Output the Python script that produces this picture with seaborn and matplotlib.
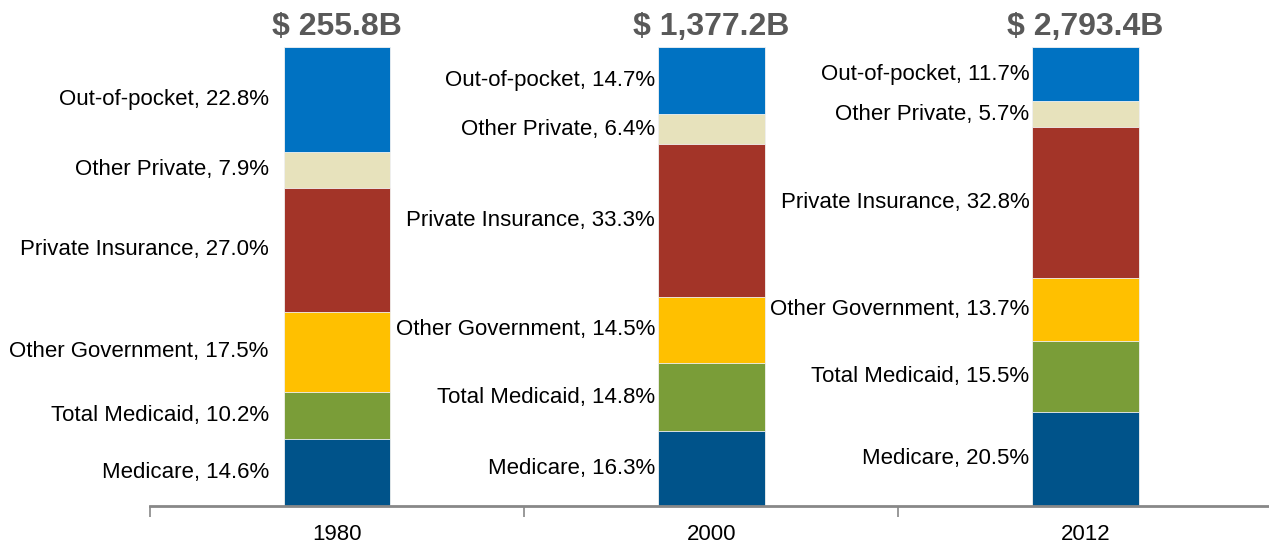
import pandas as pd
import numpy as np
import matplotlib.pyplot as plt
import seaborn as sns

# data (share of total spending, %)
years = ['1980', '2000', '2012']
totals = ['$ 255.8B', '$ 1,377.2B', '$ 2,793.4B']
categories = ['Medicare', 'Total Medicaid', 'Other Government',
              'Private Insurance', 'Other Private', 'Out-of-pocket']
medicare = [14.6, 16.3, 20.5]
medicaid = [10.2, 14.8, 15.5]
other_gov = [17.5, 14.5, 13.7]
private_ins = [27.0, 33.3, 32.8]
other_private = [7.9, 6.4, 5.7]
out_of_pocket = [22.8, 14.7, 11.7]

colors = ['#00538A', '#7A9D38', '#FFC000', '#A33428', '#E7E2BC', '#0072C2']

sns.set_style('white')
plt.rcParams['font.family'] = ['Liberation Sans', 'DejaVu Sans']

shares = pd.DataFrame(
    [medicare, medicaid, other_gov, private_ins, other_private, out_of_pocket],
    index=categories, columns=years)
cum = shares.cumsum()

fig = plt.figure(figsize=(12.69, 5.48), dpi=100)
ax = fig.add_axes([0.1182, 0.0766, 0.8818, 0.9234])

bar_w = 0.285
# stacked bars: draw cumulative totals from the top layer down
for cat, col in reversed(list(zip(categories, colors))):
    d = pd.DataFrame({'year': years, 'value': cum.loc[cat].values})
    sns.barplot(data=d, x='year', y='value', color=col, width=bar_w,
                saturation=1, edgecolor='#F2F2F2', linewidth=0.6, ax=ax)

# segment labels to the left of each bar
label_gap = [0.04, 0.008, 0.008]
for i, yr in enumerate(years):
    lower = 0.0
    for cat in categories:
        v = shares.loc[cat, yr]
        ax.text(i - bar_w / 2 - label_gap[i], lower + v / 2,
                f'{cat}, {v:.1f}%', ha='right', va='center',
                fontsize=16, color='black')
        lower += v
    ax.text(i, 104.3, totals[i], ha='center', va='center', fontsize=23,
            fontweight='bold', color='#595959')

ax.set_xlim(-0.5, 2.49)
ax.set_ylim(0, 110.2)
ax.set_xlabel('')
ax.set_ylabel('')
ax.set_yticks([])
for s in ['top', 'right', 'left']:
    ax.spines[s].set_visible(False)
ax.spines['bottom'].set_color('#888888')
ax.spines['bottom'].set_linewidth(2)
ax.set_xticks(range(len(years)))
ax.set_xticklabels(years, fontsize=16, color='black')
ax.tick_params(axis='x', which='major', length=0, pad=13)
ax.set_xticks([-0.5, 0.5, 1.5], minor=True)
ax.tick_params(axis='x', which='minor', bottom=True, length=8, width=1.2,
               color='#888888', direction='out')

fig.savefig('out.png', dpi=100)
